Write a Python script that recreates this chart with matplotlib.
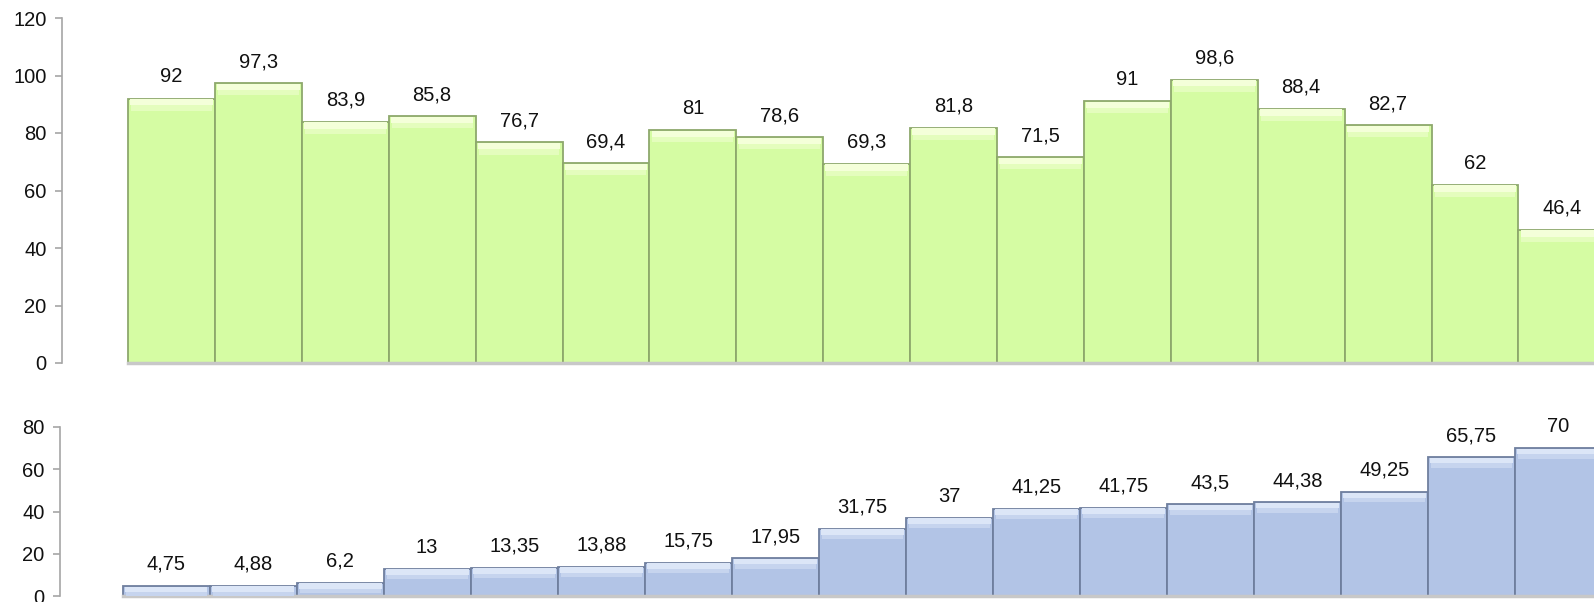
import matplotlib
matplotlib.use("Agg")
import matplotlib.pyplot as plt

plt.rcParams['font.family'] = ['Liberation Sans', 'DejaVu Sans']

# upper chart (green)
top_values = [92, 97.3, 83.9, 85.8, 76.7, 69.4, 81, 78.6, 69.3, 81.8,
              71.5, 91, 98.6, 88.4, 82.7, 62, 46.4]
top_ticks = [0, 20, 40, 60, 80, 100, 120]

# lower chart (blue)
bottom_values = [4.75, 4.88, 6.2, 13, 13.35, 13.88, 15.75, 17.95, 31.75, 37,
                 41.25, 41.75, 43.5, 44.38, 49.25, 65.75, 70]
bottom_ticks = [0, 20, 40, 60, 80]


def fmt(v):
    return f"{v:g}".replace('.', ',')


def draw(ax, values, ticks, face, edge, light, mid, strip):
    x = list(range(len(values)))
    n = len(values)
    ax.bar(x, values, width=1.0, color=face, edgecolor=edge, linewidth=1.3,
           zorder=2)
    # soft bevel highlight along the top of each bar
    ax.bar(x, [strip] * n, bottom=[v - strip * 1.9 for v in values],
           width=0.93, color=mid, linewidth=0, zorder=3)
    ax.bar(x, [strip] * n, bottom=[v - strip * 1.1 for v in values],
           width=0.95, color=light, linewidth=0, zorder=3)
    for xi, v in zip(x, values):
        ax.annotate(fmt(v), (xi, v), xytext=(0, 12), textcoords='offset pixels',
                    ha='center', va='bottom', fontsize=14.5, color='#111111')
    ax.set_ylim(ticks[0], ticks[-1])
    ax.set_yticks(ticks)
    ax.set_xlim(-1.26, 16.37)
    ax.set_xticks([])
    for s in ['top', 'right']:
        ax.spines[s].set_visible(False)
    ax.spines['bottom'].set_bounds(-0.5, n - 0.5)
    ax.spines['bottom'].set_color('#c8c8c8')
    ax.spines['bottom'].set_linewidth(2.5)
    ax.spines['left'].set_color('#a6a6a6')
    ax.spines['left'].set_linewidth(1.2)
    ax.spines['left'].set_zorder(4)
    ax.tick_params(axis='y', direction='out', length=5, width=1.2,
                   color='#a6a6a6', labelsize=14.5, labelcolor='#111111', pad=6)
    ax.patch.set_visible(False)


fig = plt.figure(figsize=(15.94, 6.02), dpi=100)

ax1 = fig.add_axes([62 / 1594, 1 - 363 / 602, 1 - 62 / 1594, 345 / 602])
draw(ax1, top_values, top_ticks, '#d5fca3', '#8ea86c', '#f4ffd9', '#e4fdbd', 2.2)

ax2 = fig.add_axes([60 / 1594, 1 - 596 / 602, 1 - 60 / 1594, 169 / 602])
draw(ax2, bottom_values, bottom_ticks, '#b2c4e6', '#6f7f9e', '#dce6f7', '#c6d4ee', 2.6)
ax2.set_xlim(-1.22, 16.41)

plt.savefig('out.png', dpi=100)
